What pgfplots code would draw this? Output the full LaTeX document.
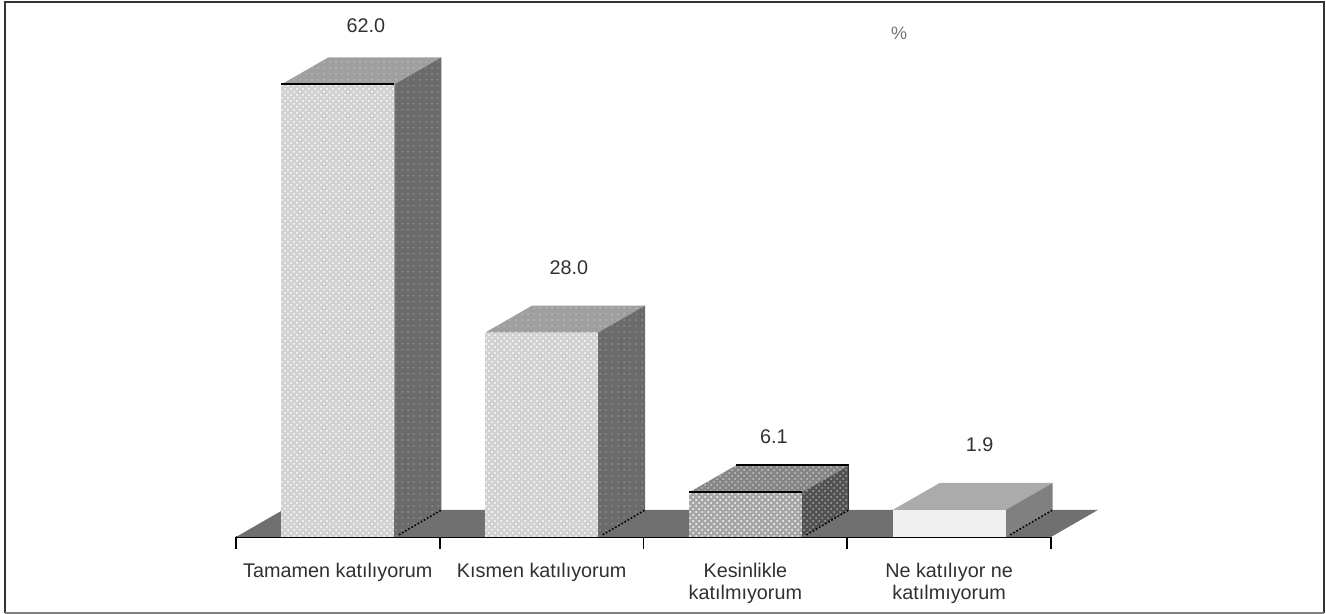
\documentclass[border=0pt]{standalone}
\usepackage{fontspec}
\setmainfont{Liberation Sans}
\usepackage{pgfplots}
\pgfplotsset{compat=1.18}
\usetikzlibrary{patterns}
\definecolor{floorgray}{HTML}{707070}
\definecolor{txt}{HTML}{303030}
\begin{document}
\begin{tikzpicture}
\path[use as bounding box] (-118pt,-38.5pt) rectangle (545pt,268.5pt);
\begin{axis}[
    scale only axis,
    width=407.5pt, height=268.5pt,
    xmin=-0.5, xmax=3.5,
    ymin=0, ymax=73.56,
    clip=false,
    axis y line=none,
    axis x line=bottom,
    axis line style={black, line width=1pt, -},
    xtick={0,1,2,3},
    xticklabels={Tamamen katılıyorum, Kısmen katılıyorum, {Kesinlikle\\katılmıyorum}, {Ne katılıyor ne\\katılmıyorum}},
    xticklabel style={align=center, font=\fontsize{9.9}{11}\selectfont, text=txt, yshift=-9.5pt},
    major tick length=0pt,
    minor xtick={-0.5,0.5,1.5,2.5,3.5},
    minor tick length=6pt,
    tick align=outside,
    minor tick style={black, line width=0.9pt},
    major tick style={draw=none},
    tick pos=bottom,
]
% floor
\addplot[fill=floorgray, draw=none] coordinates {(-0.5,0) (3.5,0) (3.73,3.7) (-0.27,3.7)} --cycle;

% tops and sides
\addplot[fill=gray!75, draw=none, postaction={pattern=dots, pattern color=gray!55}] coordinates {(-0.2773,62) (-0.0466,65.7) (0.508,65.7) (0.2773,62)} --cycle;
\addplot[fill=black!58, draw=none, postaction={pattern=dots, pattern color=black!45}] coordinates {(0.2773,0) (0.508,3.7) (0.508,65.7) (0.2773,62)} --cycle;
\addplot[fill=gray!75, draw=none, postaction={pattern=dots, pattern color=gray!55}] coordinates {(0.7227,28) (0.9534,31.7) (1.508,31.7) (1.2773,28)} --cycle;
\addplot[fill=black!58, draw=none, postaction={pattern=dots, pattern color=black!45}] coordinates {(1.2773,0) (1.508,3.7) (1.508,31.7) (1.2773,28)} --cycle;
\addplot[fill=gray!95, draw=none, postaction={pattern=crosshatch dots, pattern color=gray!45}] coordinates {(1.7227,6.1) (1.9534,9.8) (2.508,9.8) (2.2773,6.1)} --cycle;
\addplot[fill=black!68, draw=none, postaction={pattern=crosshatch dots, pattern color=black!35}] coordinates {(2.2773,0) (2.508,3.7) (2.508,9.8) (2.2773,6.1)} --cycle;
\addplot[fill=black!33, draw=none] coordinates {(2.7227,3.7) (2.9534,7.4) (3.508,7.4) (3.2773,3.7)} --cycle;
\addplot[fill=black!50, draw=none] coordinates {(3.2773,0) (3.508,3.7) (3.508,7.4) (3.2773,3.7)} --cycle;

% dotted front edge of the floor shadow
\addplot[black, densely dotted, line width=0.8pt] coordinates {(0.30,0.3) (0.508,3.7)};
\addplot[black, densely dotted, line width=0.8pt] coordinates {(1.30,0.3) (1.508,3.7)};
\addplot[black, densely dotted, line width=0.8pt] coordinates {(2.30,0.3) (2.508,3.7)};
\addplot[black, densely dotted, line width=0.8pt] coordinates {(3.30,0.3) (3.508,3.7)};

% fronts
\addplot[ybar, bar width=56.5pt, bar shift=0pt, fill=black!18, draw=none, postaction={pattern=crosshatch dots, pattern color=white}] coordinates {(0,62)};
\addplot[ybar, bar width=56.5pt, bar shift=0pt, fill=black!18, draw=none, postaction={pattern=crosshatch dots, pattern color=white}] coordinates {(1,28)};
\addplot[ybar, bar width=56.5pt, bar shift=0pt, fill=black!35, draw=none, postaction={pattern=crosshatch dots, pattern color=white}] coordinates {(2,6.1)};
\addplot[ybar, bar width=56.5pt, bar shift=0pt, fill=black!6, draw=none] coordinates {(3,3.7)};

% black edges
\addplot[black, line width=1pt] coordinates {(-0.2773,62) (0.2773,62)};
\addplot[black, line width=1pt] coordinates {(1.7227,6.1) (2.2773,6.1)};
\addplot[black, line width=1pt] coordinates {(1.9534,9.8) (2.508,9.8)};
\addplot[black!80, line width=0.6pt] coordinates {(2.508,9.8) (2.508,3.7)};

% value labels, last one as it reads in the picture (bar measures about 3.7)
\addplot[draw=none, point meta=explicit symbolic, nodes near coords,
    every node near coord/.append style={anchor=center, text=txt, font=\fontsize{9.9}{11}\selectfont}]
    coordinates {(0.137,70)[62.0] (1.134,36.85)[28.0] (2.14,13.8)[6.1] (3.15,12.6)[1.9]};
\addplot[draw=none, point meta=explicit symbolic, nodes near coords,
    every node near coord/.append style={anchor=center, text=black!55, font=\fontsize{9}{11}\selectfont}]
    coordinates {(2.755,69.0)[\%]};
\end{axis}
% outer frame
\draw[black!80, line width=1.3pt] (-115.5pt,-38pt) -- (-115.5pt,267.5pt) -- (544pt,267.5pt) -- (544pt,-38pt);
\draw[black!50, line width=0.8pt] (-115.5pt,-38pt) -- (544pt,-38pt);
\end{tikzpicture}
\end{document}
